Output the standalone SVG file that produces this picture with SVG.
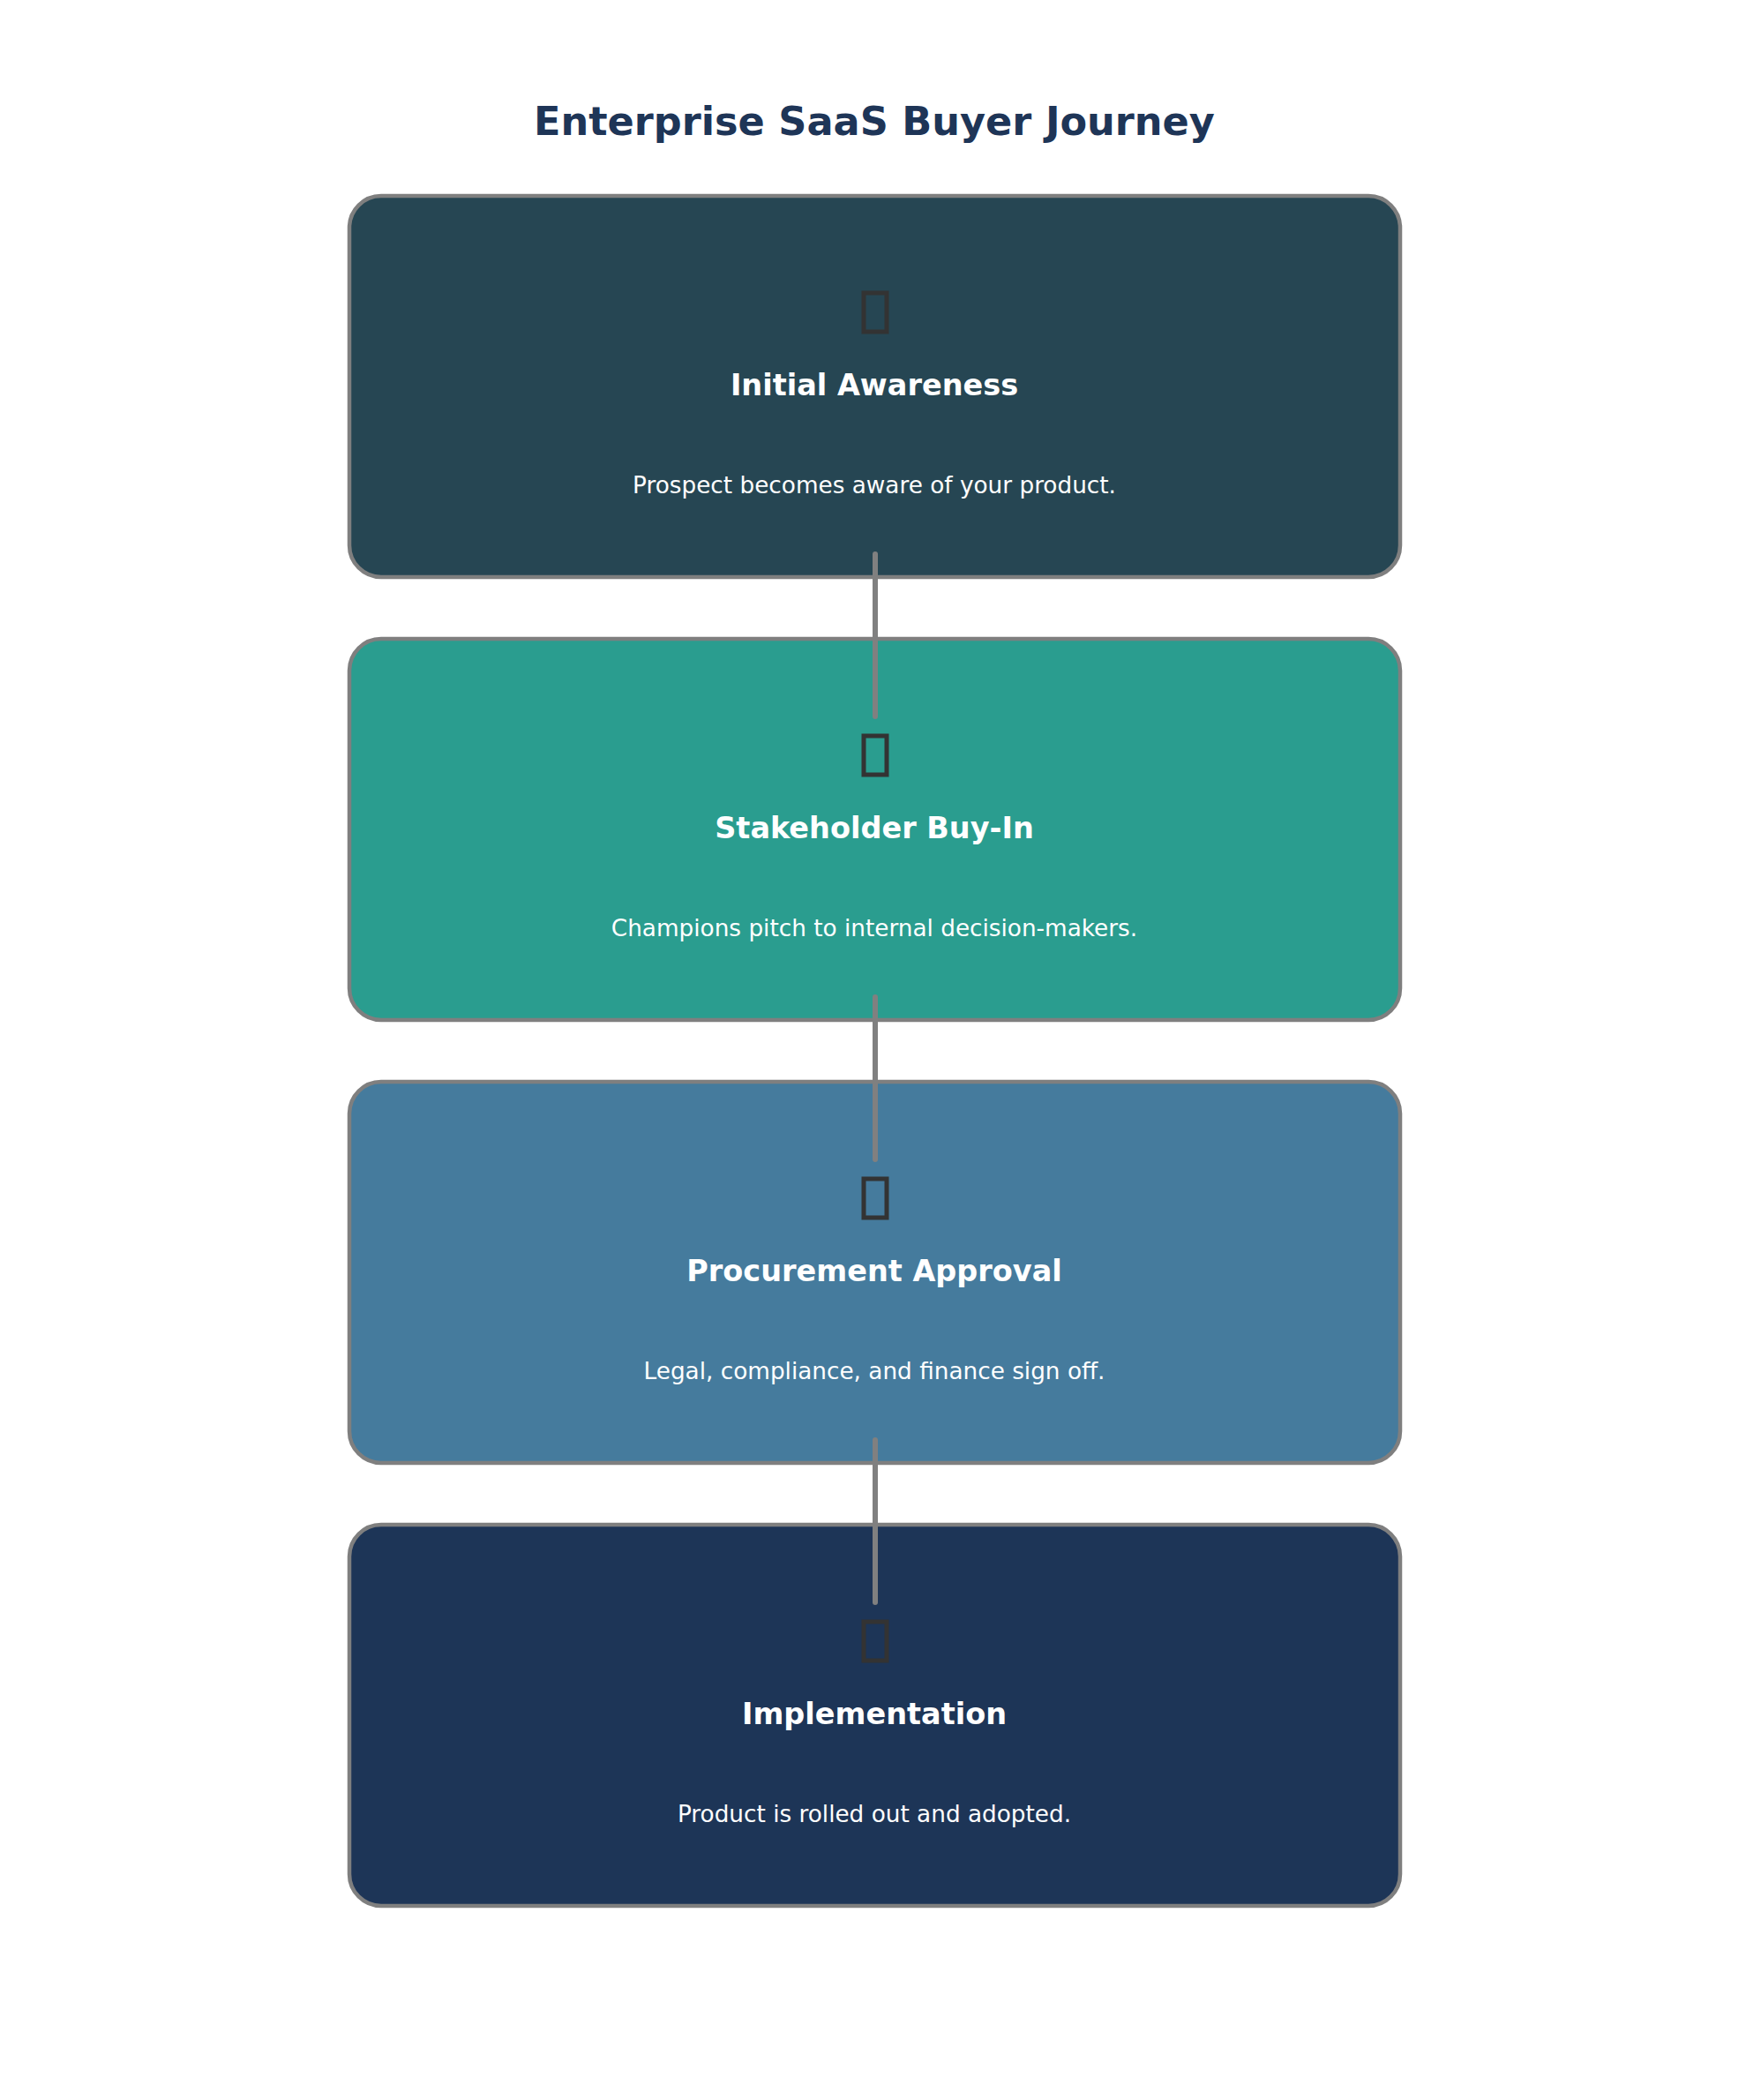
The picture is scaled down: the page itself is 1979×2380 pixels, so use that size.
<svg xmlns="http://www.w3.org/2000/svg" width="1979" height="2380" viewBox="0 0 1979 2380">
<style>
.box{stroke:#7f7f7f;stroke-width:4.5}
.ic{fill:none;stroke:#333;stroke-width:5}
.h{font-family:"DejaVu Sans",sans-serif;font-weight:bold;font-size:33.5px;fill:#fff;text-anchor:middle}
.d{font-family:"DejaVu Sans",sans-serif;font-size:26.3px;fill:#fff;text-anchor:middle}
.c{stroke:#808080;stroke-width:6;stroke-linecap:round}
</style>
<rect width="1979" height="2380" fill="#fff"/>
<text x="991" y="153" font-family="DejaVu Sans,sans-serif" font-weight="bold" font-size="44.6" fill="#1e3557" text-anchor="middle">Enterprise SaaS Buyer Journey</text>
<g id="n1"><rect class="box" x="396" y="222" width="1191" height="432" rx="36" fill="#264653"/><rect class="ic" x="979" y="332" width="26" height="44"/><text class="h" x="991" y="448">Initial Awareness</text><text class="d" x="991" y="559">Prospect becomes aware of your product.</text></g>
<g id="n2"><rect class="box" x="396" y="724" width="1191" height="432" rx="36" fill="#2a9d8f"/><rect class="ic" x="979" y="834" width="26" height="44"/><text class="h" x="991" y="950">Stakeholder Buy-In</text><text class="d" x="991" y="1061">Champions pitch to internal decision-makers.</text></g>
<g id="n3"><rect class="box" x="396" y="1226" width="1191" height="432" rx="36" fill="#457b9d"/><rect class="ic" x="979" y="1336" width="26" height="44"/><text class="h" x="991" y="1452">Procurement Approval</text><text class="d" x="991" y="1563">Legal, compliance, and finance sign off.</text></g>
<g id="n4"><rect class="box" x="396" y="1728" width="1191" height="432" rx="36" fill="#1d3557"/><rect class="ic" x="979" y="1838" width="26" height="44"/><text class="h" x="991" y="1954">Implementation</text><text class="d" x="991" y="2065">Product is rolled out and adopted.</text></g>
<g id="connectors"><line class="c" x1="992" y1="628" x2="992" y2="812"/><line class="c" x1="992" y1="1130" x2="992" y2="1314"/><line class="c" x1="992" y1="1632" x2="992" y2="1816"/></g>
</svg>
